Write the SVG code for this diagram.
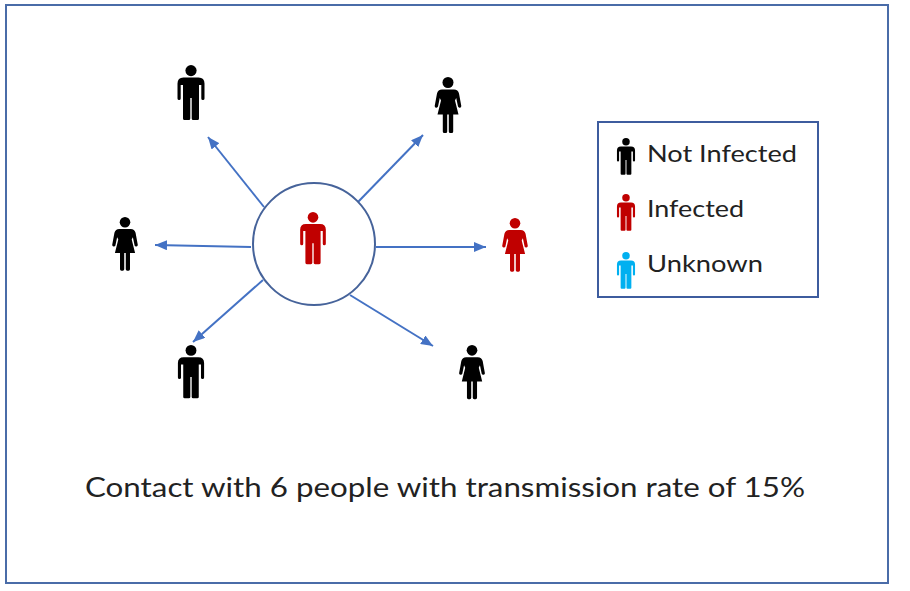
<svg xmlns="http://www.w3.org/2000/svg" xmlns:xlink="http://www.w3.org/1999/xlink" width="910" height="591" viewBox="0 0 910 591">
  <style>
    .frame { fill: none; stroke: #4a6ca8; stroke-width: 2; }
    .hub { fill: #ffffff; stroke: #46639a; stroke-width: 2; }
    .legend { fill: #ffffff; stroke: #3d5c9e; stroke-width: 2; }
    .conn { stroke: #4472c4; stroke-width: 2; fill: none; marker-end: url(#arrow); }
    .lbl { font-family: Lato, "Open Sans", "Liberation Sans", sans-serif; fill: #222222; }
    .black { fill: #000000; }
    .red { fill: #c00000; }
    .blue { fill: #00b0f0; }
  </style>
  <defs>
    <marker id="arrow" markerUnits="userSpaceOnUse" markerWidth="12" markerHeight="10" refX="12" refY="5" orient="auto">
      <path d="M0,0 L12,5 L0,10 Z" fill="#4472c4"/>
    </marker>
    <g id="man">
      <circle cx="0" cy="5.6" r="5.6"/>
      <path d="M -7.5 12.5 H 7.5 Q 13.5 12.5 13.5 18.5 V 33.5 A 1.6 1.6 0 0 1 10.3 33.5 V 20 H 8 V 53.5 A 1.5 1.5 0 0 1 6.5 55 H 2.2 A 1.5 1.5 0 0 1 0.7 53.5 V 33 H -0.7 V 53.5 A 1.5 1.5 0 0 1 -2.2 55 H -6.5 A 1.5 1.5 0 0 1 -8 53.5 V 20 H -10.3 V 33.5 A 1.6 1.6 0 0 1 -13.5 33.5 V 18.5 Q -13.5 12.5 -7.5 12.5 Z"/>
    </g>
    <g id="woman">
      <circle cx="0" cy="5.5" r="5.5"/>
      <path d="M -6 12.5 H 6 Q 10 12.5 11 16.5 L 13.3 29 A 1.7 1.7 0 0 1 10 29.6 L 8.2 21 L 7 23.5 L 10.5 37.5 H 5.2 V 54.5 A 1.5 1.5 0 0 1 3.7 56 H 2.3 A 1.5 1.5 0 0 1 0.8 54.5 V 37.5 H -0.8 V 54.5 A 1.5 1.5 0 0 1 -2.3 56 H -3.7 A 1.5 1.5 0 0 1 -5.2 54.5 V 37.5 H -10.5 L -7 23.5 L -8.2 21 L -10 29.6 A 1.7 1.7 0 0 1 -13.3 29 L -11 16.5 Q -10 12.5 -6 12.5 Z"/>
    </g>
  </defs>

  <rect x="0" y="0" width="910" height="591" fill="#ffffff"/>
  <rect class="frame" x="6" y="5" width="882" height="578"/>

  <g id="connectors">
    <line class="conn" x1="264" y1="207" x2="208" y2="137"/>
    <line class="conn" x1="358" y1="202" x2="423" y2="135"/>
    <line class="conn" x1="251" y1="247" x2="155" y2="245"/>
    <line class="conn" x1="376" y1="247" x2="486" y2="247"/>
    <line class="conn" x1="263" y1="280" x2="193" y2="342"/>
    <line class="conn" x1="350" y1="295" x2="433" y2="346"/>
  </g>

  <g id="source">
    <circle class="hub" cx="314" cy="244" r="61"/>
    <use xlink:href="#man" href="#man" class="red" transform="translate(313,212) scale(0.95)"/>
  </g>

  <g id="contact-top-left">
    <use xlink:href="#man" href="#man" class="black" transform="translate(191,65)"/>
  </g>
  <g id="contact-top-right">
    <use xlink:href="#woman" href="#woman" class="black" transform="translate(448,77)"/>
  </g>
  <g id="contact-left">
    <use xlink:href="#woman" href="#woman" class="black" transform="translate(125,217) scale(0.96)"/>
  </g>
  <g id="contact-right">
    <use xlink:href="#woman" href="#woman" class="red" transform="translate(515,218) scale(0.96)"/>
  </g>
  <g id="contact-bottom-left">
    <use xlink:href="#man" href="#man" class="black" transform="translate(191,345) scale(0.97)"/>
  </g>
  <g id="contact-bottom-right">
    <use xlink:href="#woman" href="#woman" class="black" transform="translate(472,345) scale(0.97)"/>
  </g>

  <g id="legend">
    <rect class="legend" x="598" y="122" width="220" height="175"/>
    <use xlink:href="#man" href="#man" class="black" transform="translate(626,138) scale(0.67)"/>
    <text class="lbl" x="647" y="162" font-size="24" textLength="150" lengthAdjust="spacingAndGlyphs">Not Infected</text>
    <use xlink:href="#man" href="#man" class="red" transform="translate(626,194) scale(0.67)"/>
    <text class="lbl" x="647" y="217" font-size="24" textLength="97" lengthAdjust="spacingAndGlyphs">Infected</text>
    <use xlink:href="#man" href="#man" class="blue" transform="translate(626,252) scale(0.67)"/>
    <text class="lbl" x="647" y="272" font-size="24" textLength="116" lengthAdjust="spacingAndGlyphs">Unknown</text>
  </g>

  <g id="caption">
    <text class="lbl" x="85" y="497" font-size="27" textLength="720" lengthAdjust="spacingAndGlyphs">Contact with 6 people with transmission rate of 15%</text>
  </g>
</svg>
